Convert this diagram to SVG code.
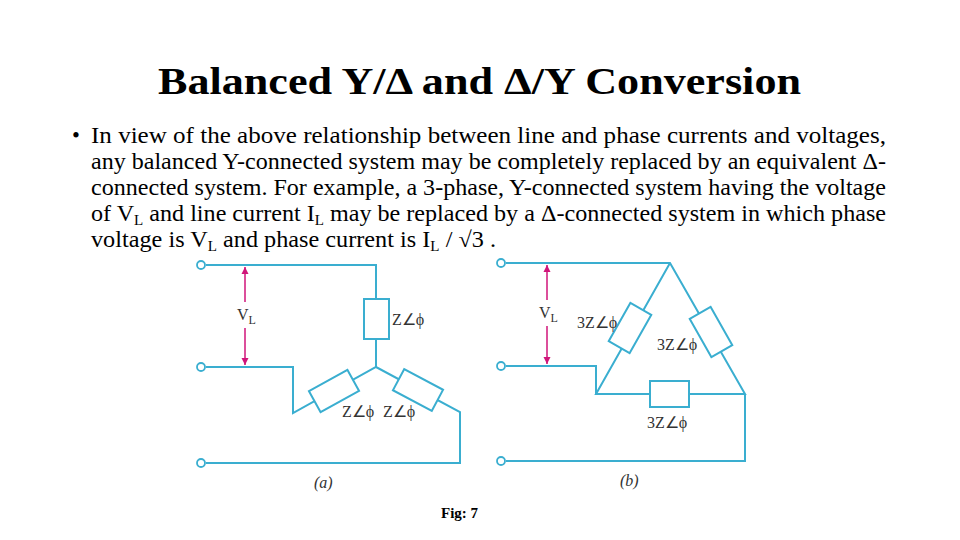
<svg xmlns="http://www.w3.org/2000/svg" width="960" height="540" viewBox="0 0 960 540">
<style>
.w{fill:none;stroke:#3aaed0;stroke-width:2}
.r{fill:#fff;stroke:#3aaed0;stroke-width:2}
.t{font-family:"Liberation Serif",serif;fill:#000}
.b{font-size:22.5px}
.l{font-family:"Liberation Serif",serif;font-size:16px;fill:#333}
.v{stroke:#d0157a;stroke-width:1.5;fill:none}
</style>
<defs>
<marker id="ah" viewBox="0 0 10 10" refX="10" refY="5" markerWidth="7" markerHeight="9" orient="auto-start-reverse" markerUnits="userSpaceOnUse"><path d="M0,0L10,5L0,10z" fill="#d0157a"/></marker>
</defs>
<text class="t" x="158" y="94" font-size="38" font-weight="bold" textLength="643" lengthAdjust="spacingAndGlyphs">Balanced Y/Δ and Δ/Y Conversion</text>
<g class="t b">
<text x="72" y="143">•</text>
<text x="91" y="143" textLength="795" lengthAdjust="spacingAndGlyphs">In view of the above relationship between line and phase currents and voltages,</text>
<text x="91" y="169" textLength="795" lengthAdjust="spacingAndGlyphs">any balanced Y-connected system may be completely replaced by an equivalent Δ-</text>
<text x="91" y="195" textLength="795" lengthAdjust="spacingAndGlyphs">connected system. For example, a 3-phase, Y-connected system having the voltage</text>
<text x="91" y="221" textLength="795" lengthAdjust="spacingAndGlyphs">of V<tspan font-size="14" dy="4">L</tspan><tspan dy="-4"> and line current I</tspan><tspan font-size="14" dy="4">L</tspan><tspan dy="-4"> may be replaced by a Δ-connected system in which phase</tspan></text>
<text x="91" y="247" textLength="405" lengthAdjust="spacingAndGlyphs">voltage is V<tspan font-size="14" dy="4">L</tspan><tspan dy="-4"> and phase current is I</tspan><tspan font-size="14" dy="4">L</tspan><tspan dy="-4"> / √3 .</tspan></text>
</g>
<g id="connectors">
<path class="w" d="M206,265H376V367M206,367H293V413L376,367L460,412V463H206"/>
<path class="w" d="M506,263H670L745,394H596L670,263M506,366H596V394M745,394V461H506"/>
<line class="v" x1="245" y1="267" x2="245" y2="365" marker-start="url(#ah)" marker-end="url(#ah)"/>
<line class="v" x1="547" y1="265" x2="547" y2="364" marker-start="url(#ah)" marker-end="url(#ah)"/>
</g>
<g id="terminals" fill="#fff" stroke="#3aaed0" stroke-width="1.8">
<circle cx="201" cy="265" r="4"/><circle cx="201" cy="367" r="4"/><circle cx="201" cy="463" r="4"/>
<circle cx="501" cy="263" r="4"/><circle cx="501" cy="366" r="4"/><circle cx="501" cy="461" r="4"/>
</g>
<g id="VLa"><rect x="234" y="302" width="22" height="26" fill="#fff"/><text class="l" x="237" y="320" font-size="17">V<tspan font-size="12" dy="4">L</tspan></text></g>
<g id="VLb"><rect x="536" y="300" width="22" height="26" fill="#fff"/><text class="l" x="539" y="318" font-size="17">V<tspan font-size="12" dy="4">L</tspan></text></g>
<g id="Za"><rect class="r" x="364" y="299" width="25" height="40"/><text class="l" x="392" y="325">Z∠ϕ</text></g>
<g id="Zb"><rect class="r" x="-22" y="-12" width="44" height="24" transform="translate(334,391) rotate(-29)"/><text class="l" x="342" y="417">Z∠ϕ</text></g>
<g id="Zc"><rect class="r" x="-22" y="-12" width="44" height="24" transform="translate(418,390) rotate(28)"/><text class="l" x="383" y="417">Z∠ϕ</text></g>
<g id="Dl"><rect class="r" x="-22" y="-12" width="44" height="24" transform="translate(630,328) rotate(-60.5)"/><text class="l" x="577" y="328">3Z∠ϕ</text></g>
<g id="Dr"><rect class="r" x="-22" y="-12" width="44" height="24" transform="translate(711,332) rotate(60.5)"/><text class="l" x="657" y="350">3Z∠ϕ</text></g>
<g id="Db"><rect class="r" x="650" y="381" width="39" height="26"/><text class="l" x="647" y="428">3Z∠ϕ</text></g>
<text class="l" x="314" y="488" font-style="italic">(a)</text>
<text class="l" x="620" y="486" font-style="italic">(b)</text>
<text class="t" x="441" y="518" font-size="15" font-weight="bold">Fig: 7</text>
</svg>
